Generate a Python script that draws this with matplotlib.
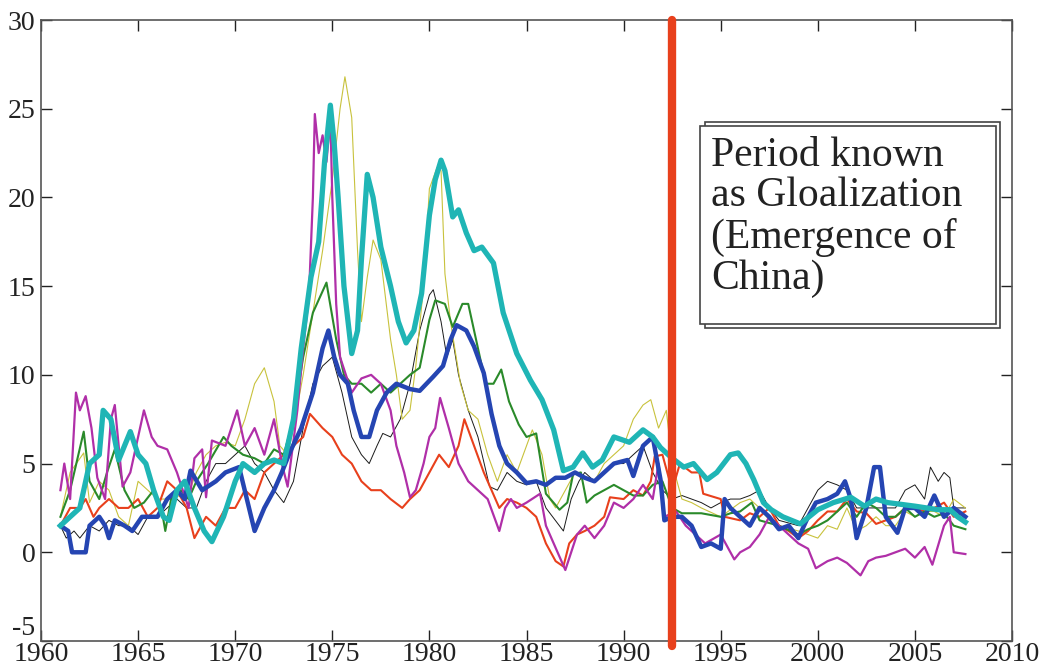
import matplotlib
matplotlib.use("Agg")
import matplotlib.pyplot as plt
from matplotlib.patches import Rectangle

plt.rcParams["axes.unicode_minus"] = False

# Series values (year, percent)
cyan_x = [1961, 1961.5, 1962, 1962.5, 1963, 1963.2, 1963.6, 1964, 1964.3, 1964.6, 1965, 1965.4, 1965.8,
          1966.3, 1966.6, 1967, 1967.4, 1967.9, 1968.4, 1968.8, 1969.4, 1970, 1970.4, 1971, 1971.5, 1972,
          1972.5, 1973, 1973.4, 1973.9, 1974.3, 1974.6, 1974.9, 1975.1, 1975.3, 1975.6, 1976.0, 1976.3,
          1976.5, 1976.8, 1977.1, 1977.5, 1978, 1978.4, 1978.8, 1979.2, 1979.6, 1980, 1980.3, 1980.6,
          1980.8, 1981.2, 1981.5, 1981.9, 1982.3, 1982.7, 1983.3, 1983.8, 1984.5, 1985.2, 1985.8, 1986.4,
          1986.9, 1987.4, 1987.9, 1988.4, 1988.9, 1989.5, 1990.3, 1991, 1991.5, 1991.9, 1992.5, 1993.1,
          1993.6, 1994.3, 1994.8, 1995.5, 1995.9, 1996.3, 1996.7, 1997.2, 1997.6, 1998.2, 1999.1, 2000,
          2000.8, 2001.7, 2002.4, 2003, 2003.6, 2004.3, 2005, 2005.6, 2006.2, 2006.8, 2007.2, 2007.6]
cyan_y = [1.5, 2.0, 2.5, 5.0, 5.5, 8.0, 7.5, 5.2, 6.0, 6.8, 5.5, 5.0, 3.5,
          2.0, 1.8, 3.5, 4.0, 2.5, 1.2, 0.6, 2.0, 4.0, 5.0, 4.5, 5.0, 5.2,
          5.0, 7.5, 11.5, 15.5, 17.5, 22.0, 25.2, 23.0, 20.0, 15.0, 11.2, 12.5,
          16.5, 21.3, 20.0, 17.2, 15.0, 13.0, 11.8, 12.5, 14.6, 19.0, 21.0, 22.1,
          21.5, 18.9, 19.3, 18.0, 17.0, 17.2, 16.3, 13.5, 11.2, 9.7, 8.6, 6.9,
          4.6, 4.8, 5.6, 4.8, 5.2, 6.5, 6.2, 6.9, 6.5, 5.9, 5.3, 4.8,
          5.0, 4.1, 4.5, 5.5, 5.6, 5.0, 4.1, 2.8, 2.4, 2.0, 1.6, 2.4,
          2.8, 3.1, 2.6, 3.0, 2.8, 2.7, 2.6, 2.5, 2.4, 2.4, 2.0, 1.7]

blue_x = [1961, 1961.4, 1961.6, 1962.3, 1962.5, 1963, 1963.3, 1963.5, 1963.8, 1964.3, 1964.7, 1965.2, 1966,
          1966.5, 1967, 1967.4, 1967.7, 1968.3, 1969, 1969.5, 1970.2, 1970.6, 1971, 1971.5, 1972, 1972.4,
          1972.8, 1973.4, 1974, 1974.5, 1974.8, 1975.1, 1975.4, 1975.8, 1976.1, 1976.5, 1976.9, 1977.3,
          1977.8, 1978.3, 1979, 1979.5, 1980.2, 1980.7, 1981.1, 1981.4, 1981.9, 1982.3, 1982.8, 1983.2,
          1983.6, 1984.0, 1984.5, 1985.0, 1985.5, 1986, 1986.5, 1987, 1987.5, 1988, 1988.5, 1989, 1989.5,
          1990.2, 1990.5, 1991.0, 1991.5, 1991.9, 1992.1, 1992.5, 1993, 1993.5, 1994, 1994.5, 1995.0,
          1995.2, 1995.5, 1996, 1996.5, 1997, 1997.5, 1998, 1998.5, 1999.0, 1999.5, 1999.9, 2000.5, 2001,
          2001.4, 2001.7, 2002.0, 2002.5, 2002.9, 2003.2, 2003.5, 2004.1, 2004.5, 2005, 2005.5, 2006,
          2006.5, 2007, 2007.6]
blue_y = [1.5, 1.2, 0.0, 0.0, 1.5, 2.0, 1.5, 0.8, 1.8, 1.5, 1.2, 2.0, 2.0,
          3.0, 3.5, 3.0, 4.6, 3.5, 4.0, 4.5, 4.8, 3.0, 1.2, 2.5, 3.5, 4.5,
          5.6, 7.0, 9.0, 11.5, 12.5, 11.0, 10.0, 9.5, 8.0, 6.5, 6.5, 8.0,
          9.0, 9.5, 9.2, 9.1, 9.9, 10.5, 12.0, 12.8, 12.5, 11.6, 10.1, 7.8,
          6.0, 5.0, 4.5, 3.9, 4.0, 3.8, 4.2, 4.2, 4.5, 4.2, 4.0, 4.5, 5.0,
          5.2, 4.3, 6.0, 6.5, 4.1, 1.8, 2.0, 2.0, 1.5, 0.3, 0.5, 0.2,
          3.0, 2.5, 2.0, 1.5, 2.5, 2.0, 1.3, 1.5, 0.8, 2.0, 2.8, 3.0, 3.3,
          4.0, 3.0, 0.8, 2.5, 4.8, 4.8, 2.0, 1.1, 2.5, 2.5, 2.0, 3.2,
          2.0, 2.5, 2.0]

green_x = [1961, 1961.5, 1962.2, 1962.5, 1963.0, 1963.4, 1963.8, 1964.3, 1964.8, 1965.3, 1965.8, 1966.2,
           1966.4, 1966.7, 1967.2, 1967.6, 1968.0, 1968.6, 1969.4, 1969.8, 1970.4, 1971.0, 1971.5, 1972.0,
           1972.5, 1973.0, 1973.5, 1974.0, 1974.7, 1975.2, 1975.6, 1976.0, 1976.5, 1977.0, 1977.5, 1978.0,
           1978.5, 1979.0, 1979.5, 1980.0, 1980.3, 1980.8, 1981.2, 1981.7, 1982.0, 1982.4, 1982.9, 1983.3,
           1983.7, 1984.1, 1984.6, 1985.0, 1985.5, 1986.0, 1986.7, 1987.1, 1987.4, 1987.8, 1988.1, 1988.5,
           1989.0, 1989.5, 1990.0, 1990.5, 1991.0, 1991.5, 1992.0, 1992.5, 1993.0, 1994.0, 1995.0, 1995.5,
           1996.0, 1996.6, 1997.0, 1998.0, 1999.0, 1999.5, 2000.0, 2000.5, 2001.0, 2001.5, 2002.0, 2002.5,
           2003.0, 2003.5, 2004.0, 2004.5, 2005.0, 2005.5, 2006.0, 2006.5, 2007.0, 2007.6]
green_y = [2.0, 3.5, 6.8, 4.0, 3.0, 4.5, 5.8, 3.5, 2.5, 2.8, 3.5, 2.5,
           1.2, 3.0, 3.5, 3.0, 4.0, 5.0, 6.5, 6.0, 5.5, 5.3, 5.0, 5.8,
           5.5, 7.5, 11.0, 13.5, 15.2, 12.0, 10.0, 9.5, 9.5, 9.0, 9.5, 9.0,
           9.5, 10.0, 10.4, 13.1, 14.2, 14.0, 12.7, 14.0, 14.0, 12.0, 9.5, 9.5,
           10.3, 8.5, 7.2, 6.5, 6.7, 3.3, 2.4, 2.8, 4.4, 4.5, 2.8, 3.2,
           3.5, 3.8, 3.5, 3.2, 3.2, 3.8, 4.0, 2.5, 2.2, 2.2, 2.0, 2.2,
           2.3, 2.8, 1.8, 1.5, 1.0, 1.3, 1.5, 1.8, 2.3, 2.8, 2.0, 2.8,
           2.5, 2.0, 2.0, 2.5, 2.0, 2.3, 2.0, 2.2, 1.5, 1.3]

yellow_x = [1961, 1961.5, 1962.2, 1962.5, 1963.0, 1963.5, 1964.0, 1964.5, 1965.0, 1965.5, 1966.0, 1966.5,
            1967.0, 1967.5, 1968.0, 1968.5, 1969.0, 1969.5, 1970.0, 1970.5, 1971.0, 1971.5, 1972.0, 1972.3,
            1972.7, 1973.0, 1973.5, 1974.0, 1974.5, 1975.0, 1975.4, 1975.65, 1976.0, 1976.3, 1976.5, 1976.8,
            1977.1, 1977.5, 1978.0, 1978.3, 1978.6, 1979.0, 1979.3, 1979.7, 1980.0, 1980.4, 1980.6, 1980.8,
            1981.1, 1981.6, 1982.0, 1982.5, 1983.0, 1983.5, 1984.0, 1984.5, 1985.0, 1985.3, 1985.8, 1986.2,
            1986.5, 1987.0, 1987.5, 1988.0, 1988.5, 1989.0, 1989.5, 1990.0, 1990.5, 1991.0, 1991.4, 1991.8,
            1992.2, 1992.5, 1993.0, 1993.5, 1994.0, 1995.0, 1996.0, 1996.5, 1997.0, 1997.5, 1998.0, 1999.0,
            2000.0, 2000.5, 2001.0, 2001.5, 2002.0, 2002.5, 2003.0, 2003.5, 2004.0, 2004.5, 2005.0, 2005.5,
            2006.0, 2006.5, 2007.0, 2007.6]
yellow_y = [2.0, 4.5, 5.6, 2.8, 4.0, 3.5, 2.0, 1.5, 4.0, 3.5, 3.0, 3.0,
            3.2, 3.0, 4.5, 5.5, 6.0, 6.2, 6.0, 7.5, 9.5, 10.4, 8.5, 6.0,
            5.5, 7.0, 10.0, 13.5, 17.0, 21.0, 25.0, 26.8, 24.5, 17.0, 13.0, 15.5,
            17.6, 16.5, 12.0, 10.0, 7.5, 8.0, 10.5, 15.0, 20.5, 21.7, 21.5, 15.7,
            12.9, 9.5, 8.0, 7.5, 5.5, 4.0, 5.5, 4.5, 6.0, 6.9, 5.5, 3.0,
            2.5, 3.5, 4.5, 4.2, 4.0, 5.0, 5.5, 6.0, 7.5, 8.3, 8.6, 7.0,
            8.0, 5.0, 3.0, 2.8, 2.5, 2.0, 2.8, 3.0, 2.5, 1.8, 1.5, 1.2,
            0.8, 1.5, 1.3, 2.5, 1.2, 1.5, 2.0, 1.5, 1.5, 2.3, 2.0, 2.3,
            2.3, 2.0, 3.0, 2.5]

black_x = [1961, 1961.3, 1961.7, 1962.0, 1962.5, 1963.0, 1963.5, 1964.0, 1964.5, 1965.0, 1965.5, 1966.0,
           1966.5, 1967.0, 1967.5, 1968.0, 1968.5, 1969.0, 1969.5, 1970.0, 1970.5, 1971.0, 1971.5, 1972.0,
           1972.5, 1973.0, 1973.5, 1974.0, 1974.5, 1975.0, 1975.5, 1976.0, 1976.5, 1976.9, 1977.3, 1977.6,
           1978.0, 1978.5, 1979.0, 1979.5, 1980.0, 1980.2, 1980.6, 1980.9, 1981.2, 1981.5, 1982.0, 1982.5,
           1983.1, 1983.5, 1984.0, 1984.5, 1985.0, 1985.5, 1986.0, 1986.9, 1987.3, 1987.7, 1988.0, 1988.5,
           1989.0, 1989.5, 1990.0, 1990.5, 1991.0, 1991.5, 1992.0, 1992.5, 1993.0, 1993.5, 1994.0, 1994.5,
           1995.0, 1995.5, 1996.0, 1996.5, 1997.0, 1997.5, 1998.0, 1999.0, 1999.5, 2000.0, 2000.5, 2001.0,
           2001.5, 2002.0, 2003.0, 2004.0, 2004.5, 2005.0, 2005.5, 2005.8, 2006.2, 2006.5, 2006.8, 2007.0,
           2007.6]
black_y = [1.5, 0.8, 1.2, 0.8, 1.5, 1.2, 1.8, 1.5, 1.5, 1.0, 2.0, 2.0,
           2.5, 3.0, 2.5, 2.5, 4.0, 5.0, 5.0, 5.5, 6.0, 5.0, 4.5, 3.5,
           2.8, 4.0, 7.0, 9.5, 10.5, 11.0, 9.0, 6.5, 5.5, 5.0, 6.0, 6.7,
           6.5, 7.5, 9.5, 12.5, 14.5, 14.8, 13.0, 11.0, 12.0, 10.0, 8.0, 6.5,
           3.7, 3.5, 4.5, 4.0, 3.8, 4.0, 2.5, 1.2, 3.0, 4.0, 4.5, 4.0,
           4.5, 5.0, 5.0, 5.5, 6.0, 4.5, 3.5, 3.0, 3.2, 3.0, 2.8, 2.5,
           2.8, 3.0, 3.0, 3.2, 3.5, 2.5, 1.8, 1.5, 2.5, 3.5, 4.0, 3.8,
           3.5, 2.5, 2.5, 2.5, 3.5, 3.8, 3.0, 4.8, 4.0, 4.5, 4.2, 2.5,
           2.5]

red_x = [1961, 1961.5, 1962.0, 1962.3, 1962.7, 1963.0, 1963.5, 1964.0, 1964.5, 1965.0, 1965.5, 1966.0,
         1966.5, 1967.0, 1967.5, 1967.9, 1968.5, 1969.0, 1969.5, 1970.0, 1970.5, 1971.0, 1971.5, 1972.0,
         1972.5, 1973.0, 1973.5, 1973.85, 1974.5, 1975.0, 1975.5, 1976.0, 1976.5, 1977.0, 1977.5, 1978.0,
         1978.6, 1979.0, 1979.5, 1980.0, 1980.5, 1981.0, 1981.5, 1981.8, 1982.3, 1982.8, 1983.2, 1983.6,
         1984.0, 1984.5, 1985.0, 1985.5, 1986.0, 1986.5, 1986.9, 1987.2, 1987.6, 1988.0, 1988.5, 1989.0,
         1989.3, 1990.0, 1990.5, 1991.0, 1991.4, 1991.6, 1992.0, 1992.5, 1992.9, 1993.5, 1993.9, 1994.1,
         1995.0, 1995.2, 1996.0, 1996.5, 1997.0, 1997.5, 1998.0, 1998.5, 1999.0, 1999.5, 2000.0, 2000.5,
         2001.0, 2001.5, 2002.0, 2002.5, 2003.0, 2003.5, 2004.0, 2004.5, 2005.0, 2005.5, 2006.0, 2006.5,
         2007.0, 2007.6]
red_y = [1.5, 2.5, 2.5, 3.0, 2.0, 2.5, 3.0, 2.5, 2.5, 3.0, 2.0, 2.5,
         4.0, 3.5, 2.5, 0.8, 2.0, 1.5, 2.5, 2.5, 3.5, 3.0, 4.5, 5.0,
         5.5, 6.0, 6.5, 7.8, 7.0, 6.5, 5.5, 5.0, 4.0, 3.5, 3.5, 3.0,
         2.5, 3.0, 3.5, 4.5, 5.5, 4.8, 6.0, 7.5, 6.0, 4.5, 3.5, 2.5,
         3.0, 2.8, 2.5, 2.0, 0.5, -0.5, -0.8, 0.5, 1.0, 1.2, 1.5, 2.0,
         3.1, 3.0, 3.5, 3.2, 4.0, 5.4, 5.5, 3.5, 5.0, 4.5, 4.5, 3.3,
         3.0, 2.0, 1.8, 2.2, 2.0, 2.5, 1.5, 1.2, 0.8, 1.2, 1.8, 2.3,
         2.3, 3.0, 2.3, 2.2, 1.6, 1.8, 2.0, 2.5, 2.5, 2.3, 2.5, 2.8,
         2.0, 2.3]

magenta_x = [1961.0, 1961.2, 1961.5, 1961.8, 1962.0, 1962.3, 1962.6, 1962.9, 1963.3, 1963.6, 1963.8, 1964.2,
             1964.6, 1965.0, 1965.3, 1965.7, 1966.0, 1966.5, 1967.0, 1967.3, 1967.6, 1967.9, 1968.3, 1968.5,
             1968.8, 1969.5, 1970.1, 1970.5, 1971.0, 1971.5, 1972.0, 1972.4, 1972.7, 1973.2, 1973.5, 1973.8,
             1974.0, 1974.1, 1974.3, 1974.5, 1974.7, 1974.9, 1975.0, 1975.2, 1975.4, 1975.7, 1976.0, 1976.5,
             1977.0, 1977.5, 1978.0, 1978.3, 1978.7, 1979.0, 1979.3, 1979.7, 1980.0, 1980.3, 1980.55, 1981.0,
             1981.5, 1982.0, 1982.5, 1983.0, 1983.6, 1983.9, 1984.2, 1984.5, 1985.0, 1985.7, 1986.0, 1986.4,
             1987.0, 1987.3, 1987.6, 1988.0, 1988.5, 1989.0, 1989.5, 1990.0, 1990.5, 1991.0, 1991.5, 1991.8,
             1992.1, 1992.7, 1993.2, 1993.7, 1994.2, 1995.0, 1995.7, 1996.0, 1996.5, 1997.0, 1997.5, 1998.0,
             1998.5, 1999.0, 1999.5, 1999.9, 2000.5, 2001.0, 2001.5, 2002.2, 2002.6, 2003.0, 2003.5, 2004.0,
             2004.5, 2005.0, 2005.5, 2005.9, 2006.5, 2006.8, 2007.0, 2007.6]
magenta_y = [3.5, 5.0, 3.0, 9.0, 8.0, 8.8, 7.0, 4.2, 3.0, 7.5, 8.3, 3.7,
             4.5, 6.5, 8.0, 6.5, 6.0, 5.8, 4.5, 3.5, 2.5, 5.3, 5.8, 3.1,
             6.3, 6.0, 8.0, 6.0, 7.0, 5.5, 7.5, 5.0, 3.7, 8.0, 11.5, 14.5,
             20.0, 24.7, 22.5, 23.5, 22.0, 24.5, 20.0, 14.0, 11.0, 10.0, 9.0, 9.8,
             10.0, 9.5, 8.0, 6.0, 4.5, 3.1, 3.5, 5.0, 6.5, 7.0, 8.7, 7.0,
             5.0, 4.0, 3.5, 3.0, 1.2, 2.5, 3.0, 2.5, 2.8, 3.3, 1.5, 0.5,
             -1.0, 0.0, 1.0, 1.5, 0.8, 1.5, 2.8, 2.5, 3.0, 3.8, 3.0, 5.0,
             2.0, 2.3, 1.5, 1.0, 0.5, 1.0, -0.4, 0.0, 0.3, 1.0, 2.0, 1.5,
             1.0, 0.5, 0.2, -0.9, -0.5, -0.3, -0.6, -1.3, -0.5, -0.3, -0.2, 0.0,
             0.2, -0.3, 0.3, -0.7, 1.5, 2.0, 0.0, -0.1]

marker_year = 1992.5
box_lines = ["Period known", "as Gloalization", "(Emergence of", "China)"]

xticks = list(range(1960, 2011, 5))
yticks = list(range(-5, 31, 5))

serif = ["Liberation Serif", "DejaVu Serif"]

fig = plt.figure(figsize=(10.41, 6.66), dpi=100)
ax = fig.add_axes([41 / 1041, 1 - 641 / 666, (1012 - 41) / 1041, (641 - 20) / 666])

ax.plot(black_x, black_y, color="#1a1a1a", lw=0.7)
ax.plot(yellow_x, yellow_y, color="#c8c23c", lw=0.8)
ax.plot(red_x, red_y, color="#e8401c", lw=1.5)
ax.plot(green_x, green_y, color="#2a8a2a", lw=1.5)
ax.plot(magenta_x, magenta_y, color="#b02fa8", lw=1.6)
ax.plot(blue_x, blue_y, color="#2545b2", lw=3.2)
ax.plot(cyan_x, cyan_y, color="#1fb5b5", lw=3.8)

ax.plot([marker_year, marker_year], [30, -5.3], color="#e8401c", lw=6,
        solid_capstyle="round", clip_on=False, zorder=5)

ax.set_xlim(1960, 2010)
ax.set_ylim(-5, 30)
ax.set_xticks(xticks)
ax.set_yticks(yticks)
ax.tick_params(direction="in", length=8, width=1, top=True, right=True,
               labelsize=20, colors="#222222")
ax.tick_params(axis="x", pad=1)
ax.tick_params(axis="y", pad=4)
for lab in ax.get_xticklabels() + ax.get_yticklabels():
    lab.set_family(serif)
# lift the bottom y label a little so it sits above the 1960 label
ax.get_yticklabels()[0].set_verticalalignment("bottom")
for sp in ax.spines.values():
    sp.set_color("#555555")
    sp.set_linewidth(1.2)

# double-bordered annotation box
fig.patches.append(Rectangle((705 / 1041, 1 - 328 / 666), 295 / 1041, 206 / 666,
                             transform=fig.transFigure, fc="white", ec="#444444", lw=1.2, zorder=6))
fig.patches.append(Rectangle((700 / 1041, 1 - 324 / 666), 296 / 1041, 198 / 666,
                             transform=fig.transFigure, fc="white", ec="#444444", lw=1.2, zorder=7))
fig.text(711 / 1041, 1 - 136 / 666, "\n".join(box_lines), family=serif, fontsize=30,
         va="top", ha="left", linespacing=1.08, color="#222222", zorder=8)

fig.savefig("out.png", dpi=100)
